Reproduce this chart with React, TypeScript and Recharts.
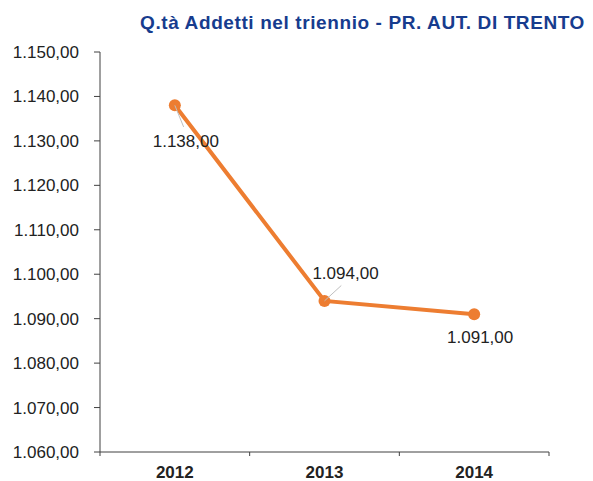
import React from "react"
import { LabelList, Line, LineChart, XAxis, YAxis } from "recharts"

const years = ["2012", "2013", "2014"]
const addetti = [1138, 1094, 1091]
const yTicks = [1060, 1070, 1080, 1090, 1100, 1110, 1120, 1130, 1140, 1150]
const title = "Q.tà Addetti nel triennio - PR. AUT. DI TRENTO"

const data = years.map((year, i) => ({ year, value: addetti[i] }))

const W = 593
const H = 481
const margin = { top: 52, right: 44, bottom: 0, left: 0 }
const xAxisHeight = 29
const yAxisWidth = 100
const plotLeft = margin.left + yAxisWidth
const plotRight = W - margin.right
const plotBottom = H - margin.bottom - xAxisHeight
const bandWidth = (plotRight - plotLeft) / years.length

const orange = "#ED7D31"
const axisColor = "#404040"
const font = "'Liberation Sans', Arial, sans-serif"

// label placement relative to each point: [dx, dy, leader line?]
const labelOffsets: [number, number, boolean][] = [
    [11, 36, true],
    [21, -28, true],
    [6, 23, false],
]

function fmt(v: number) {
    const [int, dec] = v.toFixed(2).split(".")
    return int.replace(/\B(?=(\d{3})+(?!\d))/g, ".") + "," + dec
}

function YearTick(props: any) {
    const { x, payload, index } = props
    const left = x - bandWidth / 2
    return (
        <g>
            <line x1={left} x2={left} y1={plotBottom} y2={plotBottom + 4} stroke={axisColor} />
            {index === years.length - 1 && (
                <line x1={x + bandWidth / 2} x2={x + bandWidth / 2} y1={plotBottom} y2={plotBottom + 4} stroke={axisColor} />
            )}
            <text x={x} y={478} textAnchor="middle" fontFamily={font} fontWeight="bold" fontSize={17} fill="#222">
                {payload.value}
            </text>
        </g>
    )
}

function PointLabel(props: any) {
    const { x, y, index, value } = props
    const [dx, dy, leader] = labelOffsets[index]
    return (
        <g>
            {leader && (
                <line x1={x} y1={y} x2={x + dx * 0.8} y2={y + dy * (dy > 0 ? 0.6 : 0.55)} stroke="#bfbfbf" strokeWidth={1} />
            )}
            <text x={x + dx} y={y + dy} dy="0.355em" textAnchor="middle" fontFamily={font} fontSize={17} fill="#222">
                {fmt(value)}
            </text>
        </g>
    )
}

export default function App() {
    return (
        <div style={{ position: "absolute", left: 0, top: 0, width: W, height: H, background: "#fff" }}>
            <LineChart width={W} height={H} data={data} margin={margin}>
                <XAxis
                    dataKey="year"
                    scale="band"
                    stroke={axisColor}
                    axisLine={{ stroke: axisColor }}
                    tickLine={false}
                    tick={<YearTick />}
                    height={xAxisHeight}
                    interval={0}
                />
                <YAxis
                    domain={[1060, 1150]}
                    ticks={yTicks}
                    width={yAxisWidth}
                    stroke={axisColor}
                    tickSize={6}
                    tickMargin={15}
                    tickFormatter={fmt}
                    tick={{ fontFamily: font, fontSize: 17, fill: "#222" }}
                    interval={0}
                />
                <Line
                    dataKey="value"
                    stroke={orange}
                    strokeWidth={4}
                    dot={{ r: 6, fill: orange, stroke: orange, strokeWidth: 0 }}
                    isAnimationActive={false}
                >
                    <LabelList dataKey="value" content={<PointLabel />} />
                </Line>
            </LineChart>
            <svg width={W} height={H} style={{ position: "absolute", left: 0, top: 0, pointerEvents: "none" }}>
                <text x={585} y={29} textAnchor="end" fontFamily={font} fontWeight="bold" fontSize={19} letterSpacing={0.6} fill="#173C8E">
                    {title}
                </text>
            </svg>
        </div>
    )
}
